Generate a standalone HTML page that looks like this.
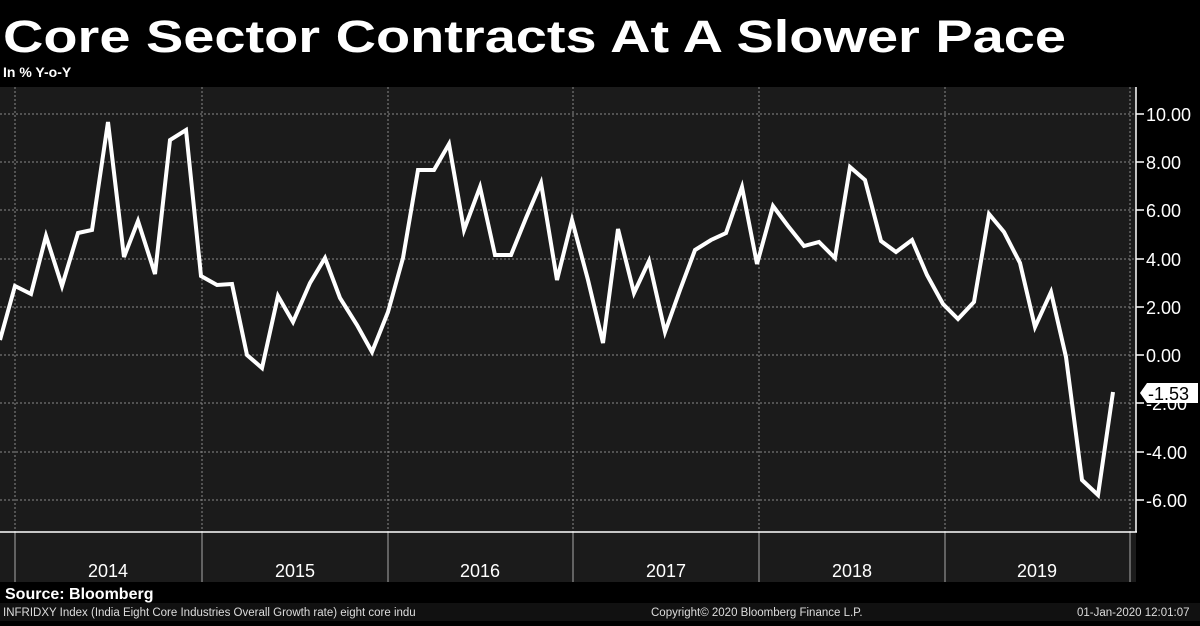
<!DOCTYPE html><html><head><style>
body{margin:0;background:#000;width:1200px;height:621px;overflow:hidden;font-family:"Liberation Sans",sans-serif}
</style></head><body>
<svg width="1200" height="621" xmlns="http://www.w3.org/2000/svg" font-family="Liberation Sans, sans-serif">
<rect width="1200" height="621" fill="#000"/>
<text x="3" y="52" fill="#fff" font-size="45" font-weight="bold" textLength="1063" lengthAdjust="spacingAndGlyphs">Core Sector Contracts At A Slower Pace</text>
<text x="3" y="77" fill="#fff" font-size="14" font-weight="bold">In % Y-o-Y</text>
<rect x="0" y="87" width="1136" height="445" fill="#1b1b1b"/>
<rect x="0" y="532" width="1136" height="50" fill="#1b1b1b"/>
<g stroke="#8a8a8a" stroke-width="1" stroke-dasharray="2,2">
<line x1="0" x2="1136" y1="114" y2="114"/><line x1="0" x2="1136" y1="162" y2="162"/><line x1="0" x2="1136" y1="210" y2="210"/><line x1="0" x2="1136" y1="259" y2="259"/><line x1="0" x2="1136" y1="307" y2="307"/><line x1="0" x2="1136" y1="355" y2="355"/><line x1="0" x2="1136" y1="403" y2="403"/><line x1="0" x2="1136" y1="452" y2="452"/><line x1="0" x2="1136" y1="500" y2="500"/>
<line x1="15" x2="15" y1="87" y2="532"/><line x1="202" x2="202" y1="87" y2="532"/><line x1="388" x2="388" y1="87" y2="532"/><line x1="573" x2="573" y1="87" y2="532"/><line x1="759" x2="759" y1="87" y2="532"/><line x1="945" x2="945" y1="87" y2="532"/><line x1="1130" x2="1130" y1="87" y2="532"/>
</g>
<g stroke="#aaa" stroke-width="1"><line x1="15" x2="15" y1="532" y2="582"/><line x1="202" x2="202" y1="532" y2="582"/><line x1="388" x2="388" y1="532" y2="582"/><line x1="573" x2="573" y1="532" y2="582"/><line x1="759" x2="759" y1="532" y2="582"/><line x1="945" x2="945" y1="532" y2="582"/><line x1="1130" x2="1130" y1="532" y2="582"/></g>
<line x1="0" x2="1137" y1="532" y2="532" stroke="#fff" stroke-width="1.5"/>
<line x1="1136" x2="1136" y1="87" y2="532" stroke="#fff" stroke-width="1.5"/>
<g stroke="#fff" stroke-width="1.5"><line x1="1136" x2="1144" y1="114" y2="114"/><line x1="1136" x2="1144" y1="162" y2="162"/><line x1="1136" x2="1144" y1="210" y2="210"/><line x1="1136" x2="1144" y1="259" y2="259"/><line x1="1136" x2="1144" y1="307" y2="307"/><line x1="1136" x2="1144" y1="355" y2="355"/><line x1="1136" x2="1144" y1="403" y2="403"/><line x1="1136" x2="1144" y1="452" y2="452"/><line x1="1136" x2="1144" y1="500" y2="500"/></g>
<g fill="#fff" font-size="18">
<text x="1146" y="121">10.00</text><text x="1146" y="169">8.00</text><text x="1146" y="217">6.00</text><text x="1146" y="266">4.00</text><text x="1146" y="314">2.00</text><text x="1146" y="362">0.00</text><text x="1146" y="410">-2.00</text><text x="1146" y="459">-4.00</text><text x="1146" y="507">-6.00</text>
</g>
<polygon points="1140,393 1147,383 1198,383 1198,403 1147,403" fill="#fff"/>
<text x="1148" y="400" fill="#000" font-size="18">-1.53</text>
<g fill="#fff" font-size="18" text-anchor="middle">
<text x="108" y="577">2014</text><text x="295" y="577">2015</text><text x="480" y="577">2016</text><text x="666" y="577">2017</text><text x="852" y="577">2018</text><text x="1037" y="577">2019</text>
</g>
<polyline fill="none" stroke="#fff" stroke-width="4" stroke-linejoin="miter" points="0,340 15,286 31,294 46,236 62,286 78,233 92,230 108,122 124,257 138,221 155,274 170,140 186,130 201,276 217,285 232,284 247,355 262,368 278,296 293,322 310,283 325,258 340,298 357,325 372,352 388,312 403,258 418,170 434,170 449,144 464,230 480,187 495,255 511,255 526,218 541,183 557,280 572,220 588,280 603,343 618,229 634,293 649,261 665,332 680,290 695,250 711,240 726,233 742,187 757,264 773,206 788,226 804,246 819,242 835,258 850,167 865,180 881,241 896,252 912,240 927,275 943,304 958,319 974,302 989,214 1004,232 1020,263 1035,327 1051,292 1066,357 1082,480 1098,495 1113,392"/>
<rect x="0" y="582" width="1200" height="21" fill="#000"/>
<text x="5" y="599" fill="#fff" font-size="16" font-weight="bold">Source: Bloomberg</text>
<rect x="0" y="603" width="1200" height="18" fill="#111"/>
<g fill="#ddd" font-size="11.5"><text x="3" y="616">INFRIDXY Index (India Eight Core Industries Overall Growth rate) eight core indu</text>
<text x="651" y="616">Copyright© 2020 Bloomberg Finance L.P.</text>
<text x="1077" y="616">01-Jan-2020 12:01:07</text></g>
</svg>
</body></html>
